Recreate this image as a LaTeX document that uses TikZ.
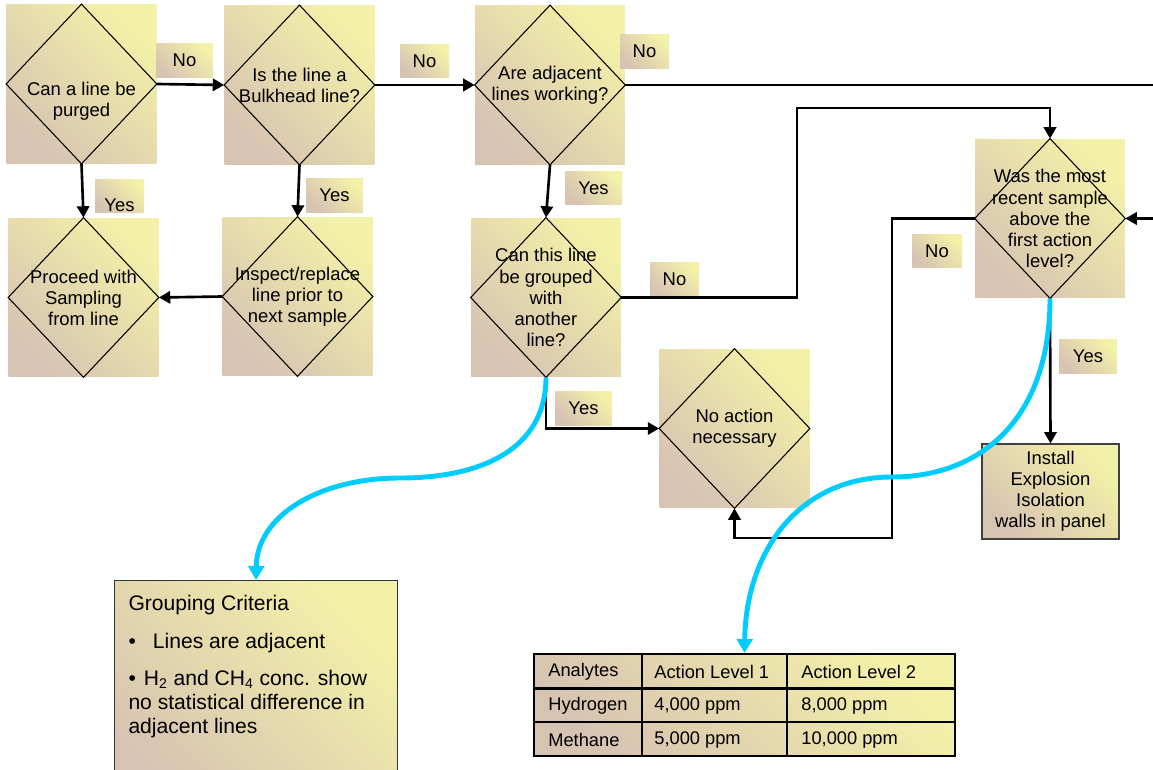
\documentclass[tikz,border=0pt]{standalone}
\usepackage{fontspec}
\setmainfont{Liberation Sans}
\usepackage{tikz}
\usetikzlibrary{arrows.meta}
\definecolor{boxlo}{RGB}{215, 195, 178}
\definecolor{boxhi}{RGB}{243, 241, 168}
\definecolor{mycyan}{RGB}{0, 204, 255}

\newcommand{\rhomb}[1]{\draw[line width=0.6pt] (#1.north) -- (#1.east) -- (#1.south) -- (#1.west) -- cycle;}

\begin{document}
\begin{tikzpicture}[x=0.02cm, y=-0.02cm,
    grad/.style={top color=boxhi, bottom color=boxlo, shading angle=-45},
    decision/.style={grad, minimum width=3cm, minimum height=3.18cm, inner sep=0pt,
      align=center, font=\fontsize{10.5}{12}\selectfont},
    tag/.style={grad, minimum width=0.98cm, minimum height=0.68cm, inner sep=0pt,
      font=\fontsize{10.5}{12}\selectfont},
    cell/.style={anchor=west, inner sep=0pt, font=\fontsize{10.4}{12}\selectfont},
    flow/.style={-{Triangle[width=7pt,length=6.5pt]}, line width=1.5pt},
    hint/.style={-{Triangle[width=9pt,length=8pt]}, mycyan, line width=2.8pt}]
    \useasboundingbox (0,0) rectangle (1153,770);
    \clip (0,0) rectangle (1153,770);

    % decision boxes
    \node[decision] (purge) at (81.5,84) {\mbox{}\\[15pt]Can a line be\\purged};
    \node[decision] (bulk) at (299.5,85) {Is the line a\\Bulkhead line?};
    \node[decision] (adj) at (550,85) {Are adjacent\\lines working?};
    \node[decision] (proceed) at (83.5,297.5) {Proceed with\\Sampling\\from line};
    \node[decision] (inspect) at (297.5,296.5) {Inspect/replace\\line prior to\\next sample};
    \node[decision] (group) at (546,297.5) {Can this line\\be grouped\\with\\another\\line?};
    \node[decision] (recent) at (1050,218.5) {Was the most\\recent sample\\above the\\first action\\level?};
    \node[decision] (noact) at (734.5,428.5) {No action\\necessary};
    \foreach \n in {purge,bulk,adj,proceed,inspect,group,recent,noact} {
      \rhomb{\n}
    }

    \node[grad, draw=black!75, line width=0.6pt, minimum width=2.74cm, minimum height=1.9cm,
      align=center, font=\fontsize{10.5}{12}\selectfont] (install) at (1050.5,491.5)
      {Install\\Explosion\\Isolation\\walls in panel};

    % Yes / No tags
    \node[tag, minimum width=1.14cm, minimum height=0.7cm] (no1) at (184.5,60.5) {No};
    \node[tag] (no2) at (424.5,61) {No};
    \node[tag] (no3) at (644.5,51.5) {No};
    \node[tag] (no4) at (674.5,279.5) {No};
    \node[tag, minimum width=1cm] (no5) at (937,251) {No};
    \node[tag] (yes1) at (119.5,196) {\raisebox{-9pt}[0pt][0pt]{Yes}};
    \node[tag, minimum width=1.14cm] (yes2) at (334.5,195.5) {Yes};
    \node[tag, minimum width=1.14cm] (yes3) at (593.5,188) {Yes};
    \node[tag, minimum width=1.14cm] (yes4) at (583.5,408.5) {Yes};
    \node[tag, minimum width=1.16cm] (yes5) at (1088,356.5) {Yes};

    % grouping criteria
    \node[grad, draw=black!80, line width=0.6pt, anchor=north west, inner xsep=0.28cm,
      inner ysep=0.3cm, font=\fontsize{12}{13.7}\selectfont] (crit) at (114,580)
      {\begin{minipage}[t][4cm][t]{5.1cm}\raggedright
        Grouping Criteria\par\vspace{7.5pt}
        \textbullet\hspace{9.7pt}Lines are adjacent\par\vspace{7.5pt}
        \textbullet\hspace{4.5pt}H\textsubscript{2} and CH\textsubscript{4} conc. show\\
        no statistical difference in\\
        adjacent lines
      \end{minipage}};

    % action level table
    \node[grad, draw, line width=1.2pt, minimum width=8.42cm, minimum height=2.04cm,
      inner sep=0pt] (tab) at (744.5,705) {};
    \draw[line width=1.2pt] (642,654) -- (642,756) (787,654) -- (787,756)
      (534,688.5) -- (955,688.5) (534,722) -- (955,722);
    \foreach \y/\a/\b/\c [count=\r] in {672/Analytes/Action Level 1/Action Level 2,
        706/Hydrogen/{4,000 ppm}/{8,000 ppm}, 740/Methane/{5,000 ppm}/{10,000 ppm}} {
      \node[cell] (ana\r) at (548,\y) {\a};
      \node[cell] (lvla\r) at (654,\y) {\b};
      \node[cell] (lvlb\r) at (801,\y) {\c};
    }

    \coordinate (kneeA) at (797,108);
    \coordinate (kneeB) at (892,538);
    \coordinate (rim) at (1175,150);

    \draw[flow] (purge.east) -- (bulk.west);
    \draw[flow] (bulk.east) -- (adj.west);
    \draw[flow] (purge.south) -- (proceed.north);
    \draw[flow] (bulk.south) -- (inspect.north);
    \draw[flow] (inspect.west) -- (proceed.east);
    \draw[flow] (adj.south) -- (group.north);
    \draw[flow] (group.south) |- (noact.west);
    \draw[flow] (group.east) -| (kneeA) -| (recent.north);
    \draw[flow] (recent.west) -| (kneeB) -| (noact.south);
    \draw[flow] (recent.south) -- (install.north);
    \draw[flow] (adj.east) -| (rim) |- (recent.east);

    % pointers to the notes
    \draw[hint] (group.south) .. controls (546,450) and (480,478) .. (400,478)
      .. controls (320,478) and (257,515) .. (crit.north);
    \draw[hint] (recent.south) .. controls (1050,420) and (980,477) .. (892,477)
      .. controls (800,477) and (746,550) .. (tab.north);
\end{tikzpicture}
\end{document}
